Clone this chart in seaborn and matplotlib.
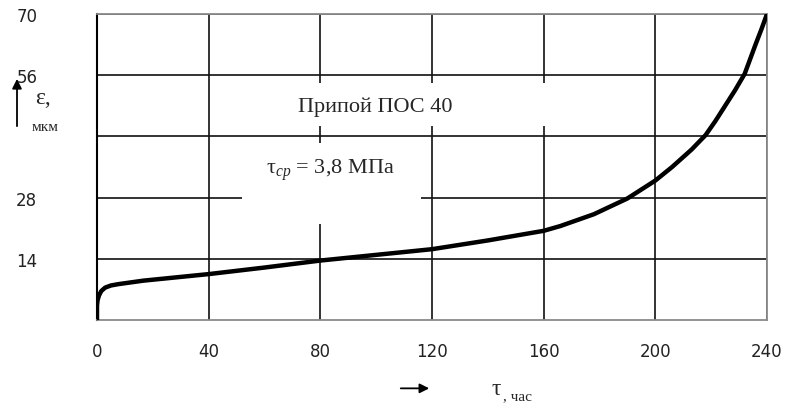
import matplotlib
matplotlib.use("Agg")
import matplotlib.pyplot as plt
import seaborn as sns
import pandas as pd
from matplotlib.patches import Rectangle

# время, час / деформация, мкм
tau = [0, 0, 0.2, 0.7, 1.5, 2.9, 5, 7.6, 16.6, 40, 60, 80, 100, 120, 140,
       160, 166, 178, 190, 200, 206, 213, 218, 221.5, 225, 228.5, 232, 236,
       238, 240]
eps = [0, 3.3, 4.5, 5.6, 6.6, 7.4, 7.9, 8.2, 9.0, 10.5, 12.0, 13.6, 14.9,
       16.2, 18.2, 20.4, 21.5, 24.2, 27.8, 31.9, 35.0, 39.0, 42.3, 45.5,
       49.0, 52.5, 56.3, 63.2, 66.5, 70.0]

x_ticks = [0, 40, 80, 120, 160, 200, 240]
y_grid = [14, 28, 42, 56, 70]
y_labels = ["14", "28", "", "56", "70"]

sns.set_style("white")
plt.rcParams["font.family"] = ["Liberation Serif", "DejaVu Serif"]
plt.rcParams["mathtext.fontset"] = "custom"
plt.rcParams["mathtext.rm"] = "Liberation Serif"
plt.rcParams["mathtext.it"] = "Liberation Serif:italic"

df = pd.DataFrame({"tau": tau, "eps": eps})

fig = plt.figure(figsize=(7.85, 4.06), dpi=100)
ax = fig.add_axes([97 / 785, 1 - 321 / 406, 670 / 785, 306 / 406])

ax.set_axisbelow(True)
ax.grid(True, color="#111111", lw=1.2)

# белые подложки под надписями
ax.add_patch(Rectangle((43, 44.3), 122, 10.0, fc="white", ec="none", zorder=1))
ax.add_patch(Rectangle((52, 22.0), 64, 18.6, fc="white", ec="none", zorder=1))

sns.lineplot(data=df, x="tau", y="eps", ax=ax, color="black", lw=3.2,
             sort=False, estimator=None, zorder=3)

ax.set_xlim(0, 240)
ax.set_ylim(0, 70)
ax.set_xticks(x_ticks)
ax.set_xticklabels([str(v) for v in x_ticks], family="DejaVu Sans",
                   fontsize=12)
ax.set_yticks(y_grid)
ax.set_yticklabels(y_labels, family="DejaVu Sans", fontsize=12)
ax.tick_params(axis="x", length=0, pad=16, colors="#222222")
ax.tick_params(axis="y", length=0, pad=43, colors="#222222")
ax.set_xlabel("")
ax.set_ylabel("")

for side in ["top", "right", "bottom"]:
    ax.spines[side].set_color("#8a8a8a")
    ax.spines[side].set_linewidth(1.3)
ax.spines["left"].set_color("black")
ax.spines["left"].set_linewidth(1.5)

ax.text(99.6, 49.0, "Припой ПОС 40", fontsize=16, ha="center", va="center",
        zorder=4)
ax.text(83.5, 34.5, "τ$_{ср}$ = 3,8 МПа", fontsize=16, ha="center",
        va="center", zorder=4)

# подписи осей со стрелками
ax.annotate("", xy=(432 / 785, 0.041), xytext=(398 / 785, 0.041),
            xycoords="figure fraction", textcoords="figure fraction",
            arrowprops=dict(arrowstyle="-|>", color="black", lw=1.3,
                            mutation_scale=14))
fig.text(496 / 785, 0.040, "τ", fontsize=17, ha="center", va="center")
fig.text(503 / 785, 0.022, ", час", fontsize=11, ha="left", va="center")

ax.annotate("", xy=(17 / 785, 0.810), xytext=(17 / 785, 0.680),
            xycoords="figure fraction", textcoords="figure fraction",
            arrowprops=dict(arrowstyle="-|>", color="black", lw=1.3,
                            mutation_scale=14))
fig.text(35 / 785, 0.757, "ε,", fontsize=17, ha="left", va="center")
fig.text(32 / 785, 0.685, "мкм", fontsize=11, ha="left", va="center")

fig.savefig("out.png", dpi=100)
